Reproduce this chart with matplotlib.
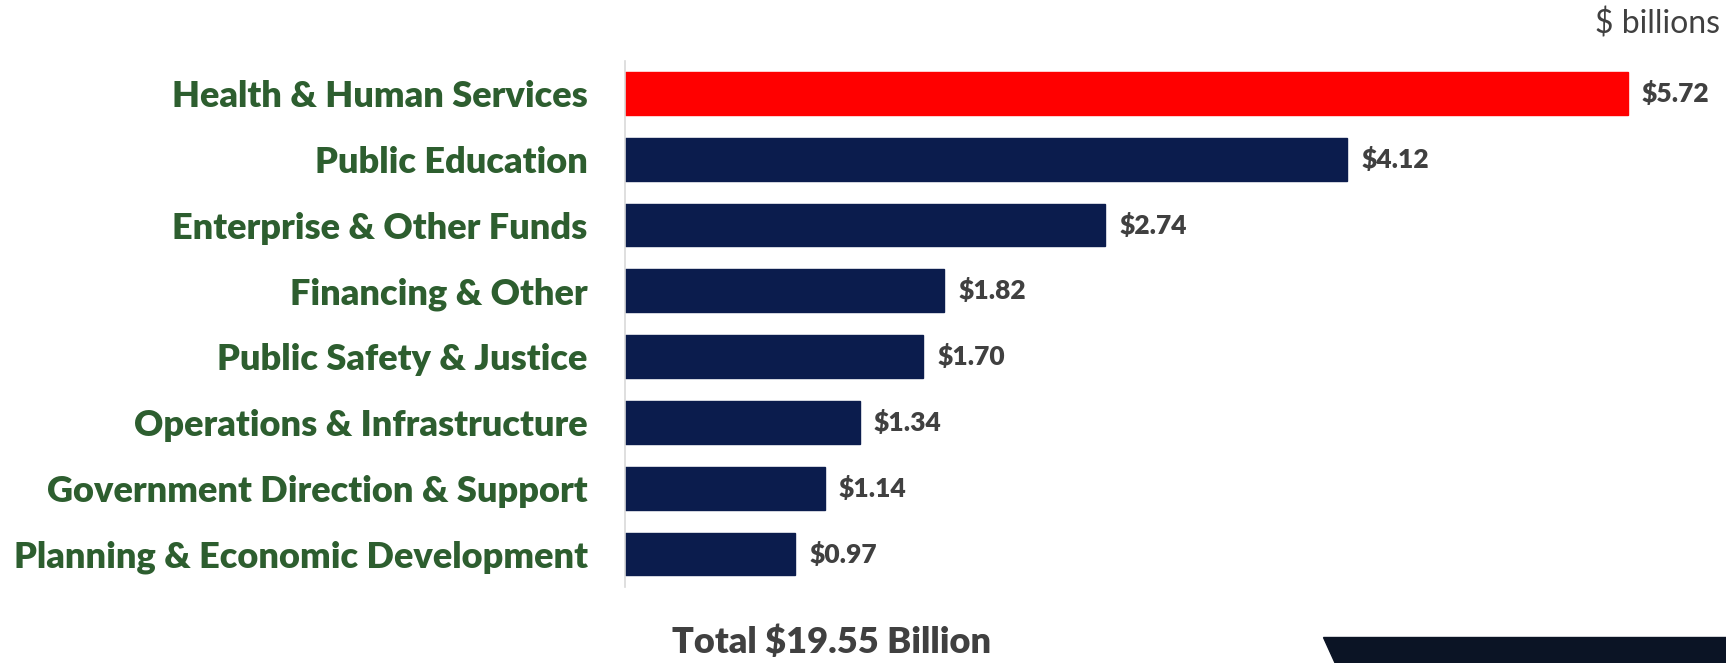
import matplotlib.pyplot as plt
from matplotlib.patches import Polygon

plt.rcParams['font.family'] = ['Lato', 'DejaVu Sans']

categories = ["Health & Human Services", "Public Education", "Enterprise & Other Funds",
              "Financing & Other", "Public Safety & Justice", "Operations & Infrastructure",
              "Government Direction & Support", "Planning & Economic Development"]
values = [5.72, 4.12, 2.74, 1.82, 1.70, 1.34, 1.14, 0.97]
total = 19.55

navy = "#0b1c4d"
red = "#ff0000"
green = "#2d5e2f"
grey = "#404040"

W, H = 1726, 663
fig = plt.figure(figsize=(W / 100, H / 100), dpi=100)
ax = fig.add_axes([625 / W, (H - 587) / H, 1052 / W, 526.5 / H])

colors = [red] + [navy] * (len(values) - 1)
ypos = range(len(values))
ax.barh(ypos, values, height=0.65, color=colors, edgecolor=colors)
ax.set_xlim(0, 6.0)
ax.set_ylim(7.5, -0.5)

for y, v in zip(ypos, values):
    ax.text(v + 0.08, y, f"${v:.2f}", va="center", ha="left",
            fontsize=19, fontweight="heavy", color=grey)

ax.set_yticks(list(ypos))
ax.set_yticklabels(categories, fontsize=26, fontweight="heavy", color=green)
ax.tick_params(axis="y", length=0, pad=27)
ax.set_xticks([])
for s in ["top", "right", "bottom"]:
    ax.spines[s].set_visible(False)
ax.spines["left"].set_color("#d9d9d9")
ax.spines["left"].set_linewidth(1.2)

fig.text(1720 / W, 1 - 24 / H, "$ billions", ha="right", va="center",
         fontsize=23, color=grey)
fig.text(832 / W, 1 - 642 / H, f"Total ${total:.2f} Billion", ha="center", va="center",
         fontsize=26, fontweight="heavy", color=grey)

# dark slanted block in the lower right corner
corner = Polygon([(1323 / W, 1 - 637 / H), (1 + 0.01, 1 - 637 / H),
                  (1 + 0.01, -0.01), (1338 / W, -0.01)],
                 closed=True, transform=fig.transFigure, color="#0b1425", zorder=0)
fig.patches.append(corner)

fig.savefig("out.png", dpi=100)
